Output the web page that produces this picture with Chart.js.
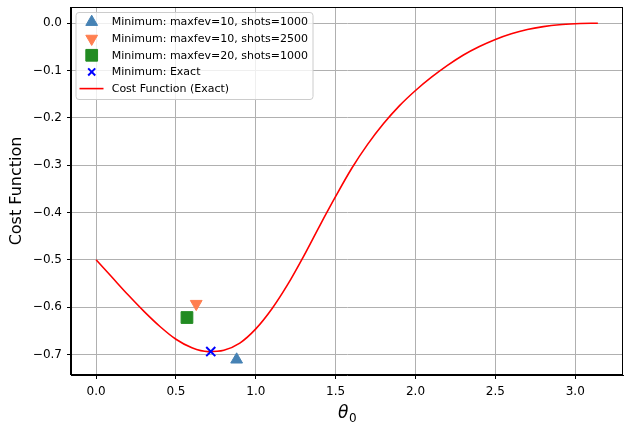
<!DOCTYPE html>
<html>
<head>
<meta charset="utf-8">
<script src="https://cdn.jsdelivr.net/npm/chart.js@4/dist/chart.umd.min.js"></script>
<style>
  html, body { margin: 0; padding: 0; background: #fff; }
  #wrap { width: 624px; height: 424px; }
</style>
</head>
<body>
<div id="wrap"><canvas id="c" width="624" height="424"></canvas></div>
<script>
// ---- data ----
const thetaVals = [0.0, 0.1, 0.2, 0.3, 0.4, 0.5, 0.6, 0.7, 0.8, 0.9, 1.0, 1.1, 1.2, 1.3, 1.4, 1.5, 1.6, 1.7, 1.8, 1.9, 2.0, 2.1, 2.2, 2.3, 2.4, 2.5, 2.6, 2.7, 2.8, 2.9, 3.0, 3.1, 3.1416];
const costVals  = [-0.500, -0.537, -0.574, -0.609, -0.641, -0.668, -0.686, -0.694, -0.691, -0.676, -0.646, -0.604, -0.552, -0.492, -0.428, -0.366, -0.307, -0.256, -0.212, -0.174, -0.142, -0.114, -0.089, -0.067, -0.049, -0.034, -0.022, -0.013, -0.007, -0.003, -0.001, 0.000, 0.000];

const minLabels = ['Minimum: maxfev=10, shots=1000', 'Minimum: maxfev=10, shots=2500', 'Minimum: maxfev=20, shots=1000', 'Minimum: Exact'];
const minTheta  = [0.880, 0.627, 0.569, 0.718];
const minCost   = [-0.711, -0.593, -0.622, -0.694];
const lineLabel = 'Cost Function (Exact)';

const xTicks = [0.0, 0.5, 1.0, 1.5, 2.0, 2.5, 3.0];
const yTicks = [0.0, -0.1, -0.2, -0.3, -0.4, -0.5, -0.6, -0.7];
const xTitleMain = 'θ';
const xTitleSub = '0';
const yTitle = 'Cost Function';

// ---- styles ----
const markerStyles = [
  { color: '#4682B4', pointStyle: 'triangle', radius: 6.8, rotation: 0, borderWidth: 1 },
  { color: '#FF7F50', pointStyle: 'triangle', radius: 6.8, rotation: 180, borderWidth: 1 },
  { color: '#228B22', pointStyle: 'rect', radius: 8.3, rotation: 0, borderWidth: 1 },
  { color: '#0000FF', pointStyle: 'crossRot', radius: 6.4, rotation: 0, borderWidth: 2 }
];
const FONT = "'DejaVu Sans', 'Liberation Sans', sans-serif";

const datasets = minLabels.map((lab, i) => ({
  type: 'scatter',
  label: lab,
  data: [{ x: minTheta[i], y: minCost[i] }],
  backgroundColor: markerStyles[i].color,
  borderColor: markerStyles[i].color,
  borderWidth: markerStyles[i].borderWidth,
  pointStyle: markerStyles[i].pointStyle,
  pointRadius: markerStyles[i].radius,
  pointRotation: markerStyles[i].rotation
}));
datasets.push({
  type: 'line',
  label: lineLabel,
  data: thetaVals.map((t, i) => ({ x: t, y: costVals[i] })),
  borderColor: '#FF0000',
  borderWidth: 1.6,
  pointRadius: 0,
  fill: false,
  cubicInterpolationMode: 'monotone'
});

function fmt(v) {
  if (Math.abs(v) < 1e-9) return '0.0';
  return v.toFixed(1).replace('-', '\u2212');
}

function drawMarker(ctx, st, x, y) {
  const r = st.radius;
  ctx.save();
  ctx.fillStyle = st.color;
  ctx.strokeStyle = st.color;
  ctx.lineWidth = st.borderWidth;
  ctx.beginPath();
  if (st.pointStyle === 'triangle') {
    let rad = st.rotation * Math.PI / 180;
    for (let k = 0; k < 3; k++) {
      const px = x + Math.sin(rad) * r, py = y - Math.cos(rad) * r;
      if (k === 0) ctx.moveTo(px, py); else ctx.lineTo(px, py);
      rad += 2 * Math.PI / 3;
    }
    ctx.closePath();
    ctx.fill(); ctx.stroke();
  } else if (st.pointStyle === 'rect') {
    const s = Math.SQRT1_2 * r;
    ctx.rect(x - s, y - s, 2 * s, 2 * s);
    ctx.fill(); ctx.stroke();
  } else if (st.pointStyle === 'crossRot') {
    const o = Math.SQRT1_2 * r;
    ctx.moveTo(x - o, y - o); ctx.lineTo(x + o, y + o);
    ctx.moveTo(x - o, y + o); ctx.lineTo(x + o, y - o);
    ctx.stroke();
  }
  ctx.restore();
}

const framePlugin = {
  id: 'frame',
  afterDatasetsDraw(chart) {
    const { ctx, chartArea: a } = chart;
    ctx.save();
    ctx.strokeStyle = '#000';
    ctx.lineWidth = 1;
    ctx.strokeRect(Math.round(a.left) - 0.5, Math.round(a.top) + 0.5, Math.round(a.right - a.left), Math.round(a.bottom - a.top) - 1);
    ctx.restore();
  }
};

// x-axis title with a real subscript (θ italic + upright subscript 0)
const xTitlePlugin = {
  id: 'xTitleSub',
  afterDraw(chart) {
    const ctx = chart.ctx;
    const a = chart.chartArea;
    ctx.save();
    ctx.fillStyle = '#000';
    ctx.textBaseline = 'alphabetic';
    ctx.textAlign = 'left';
    const mainFont = 'italic 17px ' + FONT;
    const subFont = '12px ' + FONT;
    ctx.font = mainFont;
    const wm = ctx.measureText(xTitleMain).width;
    ctx.font = subFont;
    const ws = ctx.measureText(xTitleSub).width;
    const cx = (a.left + a.right) / 2;
    const x0 = cx - (wm + ws) / 2;
    const base = 418;
    ctx.font = mainFont;
    ctx.fillText(xTitleMain, x0, base);
    ctx.font = subFont;
    ctx.fillText(xTitleSub, x0 + wm + 0.5, base + 3.5);
    ctx.restore();
  }
};

const legendPlugin = {
  id: 'innerLegend',
  afterDraw(chart) {
    const ctx = chart.ctx;
    const a = chart.chartArea;
    const x0 = a.left + 5, y0 = a.top + 5.5, w = 237, h = 87;
    ctx.save();
    ctx.beginPath();
    const rr = 3;
    ctx.moveTo(x0 + rr, y0);
    ctx.lineTo(x0 + w - rr, y0); ctx.quadraticCurveTo(x0 + w, y0, x0 + w, y0 + rr);
    ctx.lineTo(x0 + w, y0 + h - rr); ctx.quadraticCurveTo(x0 + w, y0 + h, x0 + w - rr, y0 + h);
    ctx.lineTo(x0 + rr, y0 + h); ctx.quadraticCurveTo(x0, y0 + h, x0, y0 + h - rr);
    ctx.lineTo(x0, y0 + rr); ctx.quadraticCurveTo(x0, y0, x0 + rr, y0);
    ctx.closePath();
    ctx.fillStyle = 'rgba(255,255,255,0.8)';
    ctx.fill();
    ctx.strokeStyle = '#cccccc';
    ctx.lineWidth = 1;
    ctx.stroke();
    ctx.font = '11px ' + FONT;
    ctx.textBaseline = 'middle';
    ctx.textAlign = 'left';
    const ds = chart.data.datasets;
    for (let i = 0; i < ds.length; i++) {
      const cy = y0 + 9.5 + i * 16.65;
      const mx = x0 + 15.7;
      if (ds[i].type === 'line') {
        ctx.strokeStyle = ds[i].borderColor;
        ctx.lineWidth = ds[i].borderWidth;
        ctx.beginPath();
        ctx.moveTo(x0 + 3.5, cy); ctx.lineTo(x0 + 27.5, cy);
        ctx.stroke();
      } else {
        const st = markerStyles[i];
        drawMarker(ctx, { ...st, radius: st.pointStyle === 'crossRot' ? 5 : st.radius }, mx, cy);
      }
      ctx.fillStyle = '#000';
      ctx.fillText(ds[i].label, x0 + 35.7, cy + 0.5);
    }
    ctx.restore();
  }
};

new Chart(document.getElementById('c'), {
  data: { datasets },
  plugins: [framePlugin, xTitlePlugin, legendPlugin],
  options: {
    responsive: false,
    animation: false,
    devicePixelRatio: 1,
    layout: { autoPadding: false, padding: { top: 7, right: 1, left: 0, bottom: 0 } },
    plugins: { legend: { display: false }, tooltip: { enabled: false } },
    scales: {
      x: {
        type: 'linear',
        min: -0.157,
        max: 3.299,
        afterBuildTicks: s => { s.ticks = xTicks.map(v => ({ value: v })); },
        afterFit: s => { s.height = 49; s.paddingLeft = 0; s.paddingRight = 0; },
        grid: { color: '#b0b0b0', lineWidth: 1, tickLength: 4, tickColor: '#000', drawTicks: true },
        border: { color: '#000', width: 1 },
        ticks: { autoSkip: false, maxRotation: 0, padding: 6, color: '#000', font: { size: 12, family: FONT }, callback: v => fmt(v) },
        title: { display: false }
      },
      y: {
        type: 'linear',
        min: -0.7435,
        max: 0.0345,
        afterBuildTicks: s => { s.ticks = yTicks.map(v => ({ value: v })); },
        afterFit: s => { s.width = 71; s.paddingTop = 0; s.paddingBottom = 0; },
        grid: { color: '#b0b0b0', lineWidth: 1, tickLength: 4, tickColor: '#000', drawTicks: true },
        border: { color: '#000', width: 1 },
        ticks: { autoSkip: false, padding: 5, color: '#000', font: { size: 12, family: FONT }, callback: v => fmt(v) },
        title: { display: true, text: yTitle, color: '#000', font: { size: 16, family: FONT }, padding: { top: 7, bottom: 0 } }
      }
    }
  }
});
</script>
</body>
</html>
